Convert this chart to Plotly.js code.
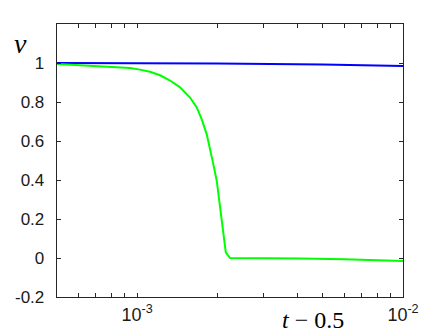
<!DOCTYPE html>
<html>
<head>
<meta charset="utf-8">
<script src="https://cdn.plot.ly/plotly-3.0.1.min.js"></script>
<style>
  html, body { margin: 0; padding: 0; background: #fff; }
  #chart { width: 445px; height: 334px; }
</style>
</head>
<body>
<div id="chart"></div>
<script>
const colorAxis = 'rgb(38,38,38)'
const colorBlue = 'rgb(0,0,255)'
const colorGreen = 'rgb(0,255,0)'

// t - 0.5 and v
const tBlue = [5e-4, 1e-3, 2e-3, 5e-3, 1e-2]
const vBlue = [1.0, 0.999, 0.997, 0.992, 0.985]

const tGreen = [5.0e-4, 6.0e-4, 7.26e-4, 8.5e-4, 9.41e-4, 1.026e-3, 1.119e-3, 1.22e-3, 1.331e-3,
  1.451e-3, 1.582e-3, 1.677e-3, 1.751e-3, 1.828e-3, 1.898e-3, 1.936e-3, 1.994e-3, 2.034e-3,
  2.081e-3, 2.129e-3, 2.156e-3, 2.237e-3, 3.0e-3, 4.1e-3, 6.0e-3, 1e-2]
const vGreen = [0.995, 0.99, 0.985, 0.979, 0.974, 0.966, 0.955, 0.937, 0.91,
  0.875, 0.823, 0.772, 0.711, 0.634, 0.54, 0.48, 0.395, 0.299,
  0.179, 0.076, 0.029, 0.0, 0.0, -0.002, -0.007, -0.015]

const xTickVals = [5e-4, 6e-4, 7e-4, 8e-4, 9e-4, 1e-3, 2e-3, 3e-3, 4e-3, 5e-3, 6e-3, 7e-3, 8e-3, 9e-3, 1e-2]
const xTickText = ['', '', '', '', '', '10<sup>-3</sup>', '', '', '', '', '', '', '', '', '10<sup>-2</sup>']
const yTickVals = [-0.2, 0, 0.2, 0.4, 0.6, 0.8, 1]
const yTickText = ['-0.2', '0', '0.2', '0.4', '0.6', '0.8', '1']

const data = [
  {
    x: tBlue,
    y: vBlue,
    type: 'scatter',
    mode: 'lines',
    line: {color: colorBlue, width: 2}
  },
  {
    x: tGreen,
    y: vGreen,
    type: 'scatter',
    mode: 'lines',
    line: {color: colorGreen, width: 2}
  }
]

const axisCommon = {
  showline: true,
  mirror: 'ticks',
  linecolor: colorAxis,
  linewidth: 1.3,
  ticks: 'inside',
  ticklen: 4,
  tickwidth: 1,
  tickcolor: colorAxis,
  showgrid: false,
  zeroline: false,
  tickfont: {family: 'Liberation Sans, Arial, sans-serif', size: 17, color: 'rgb(26,26,26)'}
}

const layout = {
  width: 445,
  height: 334,
  margin: {l: 57, r: 42, t: 24, b: 37},
  paper_bgcolor: '#fff',
  plot_bgcolor: '#fff',
  showlegend: false,
  xaxis: Object.assign({}, axisCommon, {
    type: 'log',
    range: [Math.log10(5e-4), -2],
    tickmode: 'array',
    tickvals: xTickVals,
    ticktext: xTickText,
    ticklabelstandoff: 1,
    tickfont: {family: 'Liberation Sans, Arial, sans-serif', size: 18, color: 'rgb(26,26,26)'}
  }),
  yaxis: Object.assign({}, axisCommon, {
    range: [-0.2, 1.2],
    tickmode: 'array',
    tickvals: yTickVals,
    ticktext: yTickText,
    ticklabelstandoff: 8
  }),
  annotations: [
    {
      text: '<i>v</i>',
      xref: 'paper', yref: 'paper',
      x: -0.105, y: 0.93,
      xanchor: 'center', yanchor: 'middle',
      showarrow: false,
      font: {family: 'Liberation Serif, DejaVu Serif, serif', size: 28, color: '#000'}
    },
    {
      text: '<i>t</i> − 0.5',
      xref: 'paper', yref: 'paper',
      x: 0.74, y: -0.083,
      xanchor: 'center', yanchor: 'middle',
      showarrow: false,
      font: {family: 'Liberation Serif, DejaVu Serif, serif', size: 24, color: '#000'}
    }
  ]
}

Plotly.newPlot('chart', data, layout, {displayModeBar: false, staticPlot: true})
</script>
</body>
</html>
